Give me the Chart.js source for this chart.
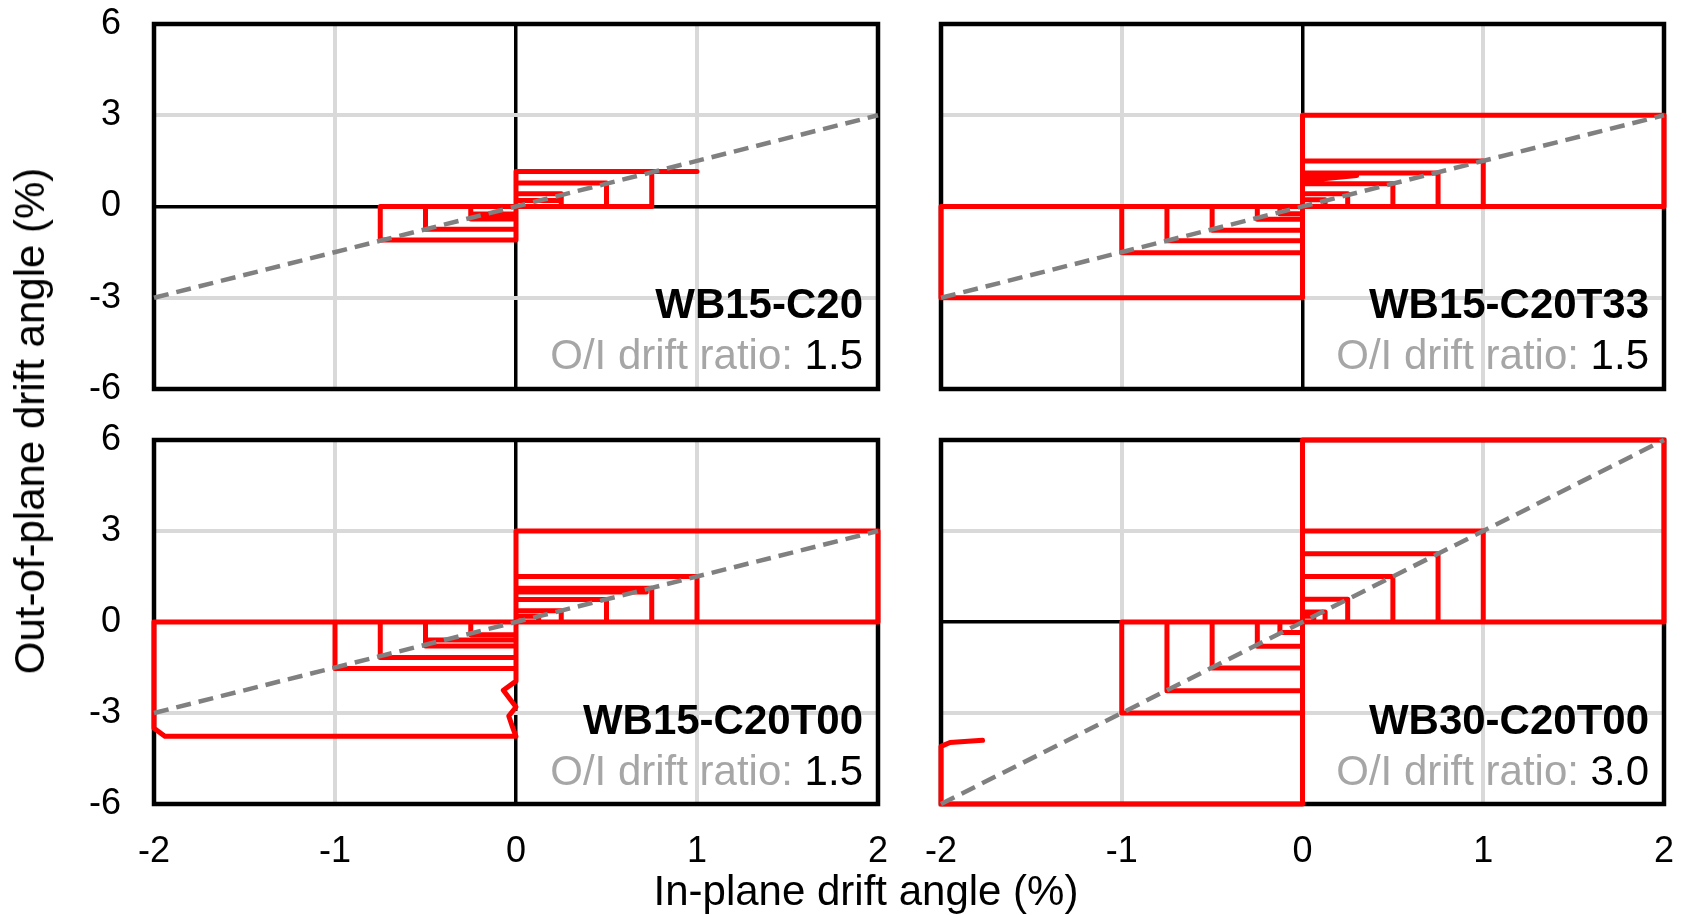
<!DOCTYPE html>
<html>
<head>
<meta charset="utf-8">
<title>Bi-directional drift paths</title>
<script src="https://cdn.jsdelivr.net/npm/chart.js@4.4.1/dist/chart.umd.min.js"></script>
<style>
  body { margin: 0; background: #fff; }
  #wrap { position: relative; width: 1688px; height: 915px; overflow: hidden; }
  canvas { position: absolute; left: 0; top: 0; }
  .axisTitle {
    position: absolute;
    font: 42px "Liberation Sans", Arial, sans-serif;
    line-height: 42px;
    color: #000;
    white-space: nowrap;
  }
  #xTitle { left: 866px; top: 870px; transform: translateX(-50%); }
  #yTitle { left: 30px; top: 421px; transform: translate(-50%, -50%) rotate(-90deg); }
</style>
</head>
<body>
<div id="wrap">
  <canvas id="pTL" width="1688" height="915"></canvas>
  <canvas id="pTR" width="1688" height="915"></canvas>
  <canvas id="pBL" width="1688" height="915"></canvas>
  <canvas id="pBR" width="1688" height="915"></canvas>
  <div class="axisTitle" id="xTitle">In-plane drift angle (%)</div>
  <div class="axisTitle" id="yTitle">Out-of-plane drift angle (%)</div>
</div>
<script>
// axis ticks
const xTicks = [-2, -1, 0, 1, 2];
const yTicks = [-6, -3, 0, 3, 6];

// target O/I ratio lines
const diagX = [-2, 2];
const diag15Y = [-3, 3];
const diag30Y = [-6, 6];

// WB15-C20 : in-plane (x) / out-of-plane (y) path
const c20X = [0,
  0, 0.25, 0.25, 0,   0, 0.25, 0.25, 0,   0, 0.5, 0.5, 0,   0, 0.75, 0.75, 0,
  0, -0.25, -0.25, 0, 0, -0.25, -0.25, 0, 0, -0.5, -0.5, 0, 0, -0.75, -0.75, 0,
  0, 1.0];
const c20Y = [0,
  0.2, 0.2, 0, 0,     0.42, 0.42, 0, 0,   0.77, 0.77, 0, 0, 1.15, 1.15, 0, 0,
  -0.25, -0.25, 0, 0, -0.41, -0.41, 0, 0, -0.75, -0.75, 0, 0, -1.1, -1.1, 0, 0,
  1.15, 1.15];

// WB15-C20T33
const t33X = [0,
  0, 0.125, 0.125, 0, 0, 0.25, 0.25, 0, 0, 0.5, 0.5, 0, 0, 0.75, 0.75, 0,
  0, 0.3, 0, 0,       0, 1, 1, 0,       0, 2, 2, 0,
  0, -0.125, -0.125, 0, 0, -0.25, -0.25, 0, 0, -0.5, -0.5, 0,
  0, -0.75, -0.75, 0, 0, -1, -1, 0,     0, -2, -2, 0];
const t33Y = [0,
  0.22, 0.22, 0, 0,   0.42, 0.42, 0, 0, 0.75, 0.75, 0, 0, 1.1, 1.1, 0, 0,
  1.02, 1.02, 0.85, 0, 1.5, 1.5, 0, 0,  3, 3, 0, 0,
  -0.24, -0.24, 0, 0, -0.42, -0.42, 0, 0, -0.78, -0.78, 0, 0,
  -1.13, -1.13, 0, 0, -1.52, -1.52, 0, 0, -3, -3, 0, 0];

// WB15-C20T00
const t00X = [0,
  0, 0.125, 0.125, 0, 0, 0.25, 0.25, 0, 0, 0.5, 0.5, 0, 0, 0.75, 0.75, 0,
  0, 0.72, 0, 0,      0, 1, 1, 0,       0, 2, 2, 0,
  0, -0.25, -0.25, 0, 0, -0.5, -0.5, 0, 0, -0.5, -0.5, 0, 0, -0.75, -0.75, 0, 0, -1, -1, 0,
  -2, -2, -1.94, 0, -0.02, -0.04, 0, -0.07, 0, 0];
const t00Y = [0,
  0.19, 0.19, 0, 0,   0.37, 0.37, 0, 0, 0.74, 0.74, 0, 0, 1.11, 1.11, 0, 0,
  0.99, 0.99, 0.99, 0, 1.5, 1.5, 0, 0,  3, 3, 0, 0,
  -0.42, -0.42, 0, 0, -0.59, -0.59, 0, 0, -0.79, -0.79, 0, 0, -1.17, -1.17, 0, 0, -1.53, -1.53, 0, 0,
  0, -3.5, -3.77, -3.77, -3.45, -3.1, -2.8, -2.25, -1.95, 0];

// WB30-C20T00
const w30X = [0,
  0, 0.0625, 0.0625, 0, 0, 0.125, 0.125, 0, 0, 0.25, 0.25, 0, 0, 0.5, 0.5, 0,
  0, 0.75, 0.75, 0,   0, 1, 1, 0,       0, 2, 2, 0,
  0, -0.125, -0.125, 0, 0, -0.25, -0.25, 0, 0, -0.5, -0.5, 0,
  0, -0.75, -0.75, 0, 0, -1, -1, 0,
  0, -2, -2, -1.95, -1.77];
const w30Y = [0,
  0.19, 0.19, 0, 0,   0.33, 0.33, 0, 0, 0.75, 0.75, 0, 0, 1.5, 1.5, 0, 0,
  2.25, 2.25, 0, 0,   3, 3, 0, 0,       6, 6, 0, 0,
  -0.35, -0.35, 0, 0, -0.8, -0.8, 0, 0, -1.52, -1.52, 0, 0,
  -2.27, -2.27, 0, 0, -3, -3, 0, 0,
  -6, -6, -4.1, -3.97, -3.9];

const FONT = '"Liberation Sans", Arial, sans-serif';
const W = 1688, H = 915;

const panels = [
  { id: 'pTL', name: 'WB15-C20',    ratio: '1.5', xs: c20X, ys: c20Y, dy: diag15Y, left: 154, right: 878,  top: 24,  bottom: 389, showX: false, showY: true },
  { id: 'pTR', name: 'WB15-C20T33', ratio: '1.5', xs: t33X, ys: t33Y, dy: diag15Y, left: 941, right: 1664, top: 24,  bottom: 389, showX: false, showY: false },
  { id: 'pBL', name: 'WB15-C20T00', ratio: '1.5', xs: t00X, ys: t00Y, dy: diag15Y, left: 154, right: 878,  top: 440, bottom: 804, showX: true,  showY: true },
  { id: 'pBR', name: 'WB30-C20T00', ratio: '3.0', xs: w30X, ys: w30Y, dy: diag30Y, left: 941, right: 1664, top: 440, bottom: 804, showX: true,  showY: false }
];

function toPoints(xs, ys) {
  return xs.map((x, i) => ({ x, y: ys[i] }));
}

// plot-area frame, under the data
const framePlugin = {
  id: 'frame',
  beforeDatasetsDraw(chart) {
    const a = chart.chartArea, ctx = chart.ctx;
    ctx.save();
    ctx.strokeStyle = '#000';
    ctx.lineWidth = 4.5;
    ctx.strokeRect(a.left, a.top, a.right - a.left, a.bottom - a.top);
    ctx.restore();
  }
};

// specimen name + ratio in the lower right corner
const labelPlugin = {
  id: 'panelLabel',
  afterDatasetsDraw(chart, args, opts) {
    const a = chart.chartArea, ctx = chart.ctx;
    const x = a.right - 15;
    ctx.save();
    ctx.textAlign = 'right';
    ctx.textBaseline = 'alphabetic';
    ctx.fillStyle = '#000';
    ctx.font = 'bold 42px ' + FONT;
    ctx.fillText(opts.name, x, a.top + 294);
    ctx.font = '42px ' + FONT;
    ctx.fillText(opts.ratio, x, a.top + 345);
    const w = ctx.measureText(opts.ratio).width;
    ctx.fillStyle = '#a6a6a6';
    ctx.fillText('O/I drift ratio: ', x - w, a.top + 345);
    ctx.restore();
  }
};

const gridColor = c => (c.tick && c.tick.value === 0) ? '#000000' : '#d9d9d9';
const gridWidth = c => (c.tick && c.tick.value === 0) ? 3.5 : 4;

panels.forEach(p => {
  const yW = p.showY ? p.left : 0;
  const xH = p.showX ? 60 : 0;
  new Chart(document.getElementById(p.id), {
    type: 'scatter',
    data: {
      datasets: [
        { data: toPoints(diagX, p.dy), showLine: true, borderColor: '#808080', borderWidth: 4.5,
          borderDash: [15, 8], pointRadius: 0, clip: false },
        { data: toPoints(p.xs, p.ys), showLine: true, borderColor: '#ff0000', borderWidth: 5,
          pointRadius: 0, borderJoinStyle: 'round', borderCapStyle: 'round', clip: false }
      ]
    },
    options: {
      responsive: false,
      animation: false,
      events: [],
      layout: { padding: { left: p.left - yW, right: W - p.right, top: p.top, bottom: H - p.bottom - xH } },
      plugins: {
        legend: { display: false },
        tooltip: { enabled: false },
        panelLabel: { name: p.name, ratio: p.ratio }
      },
      scales: {
        x: {
          type: 'linear', min: xTicks[0], max: xTicks[xTicks.length - 1],
          afterBuildTicks: s => { s.ticks = xTicks.map(v => ({ value: v })); },
          ticks: { display: p.showX, color: '#000', font: { family: FONT, size: 36 }, padding: 26, maxRotation: 0 },
          grid: { color: gridColor, lineWidth: gridWidth, drawTicks: false },
          border: { display: false },
          afterFit: s => { s.height = xH; s.paddingLeft = 0; s.paddingRight = 0; }
        },
        y: {
          type: 'linear', min: yTicks[0], max: yTicks[yTicks.length - 1],
          afterBuildTicks: s => { s.ticks = yTicks.map(v => ({ value: v })); },
          ticks: { display: p.showY, color: '#000', font: { family: FONT, size: 36 }, padding: 33 },
          grid: { color: gridColor, lineWidth: gridWidth, drawTicks: false },
          border: { display: false },
          afterFit: s => { s.width = yW; s.paddingTop = 0; s.paddingBottom = 0; }
        }
      }
    },
    plugins: [framePlugin, labelPlugin]
  });
});
</script>
</body>
</html>
